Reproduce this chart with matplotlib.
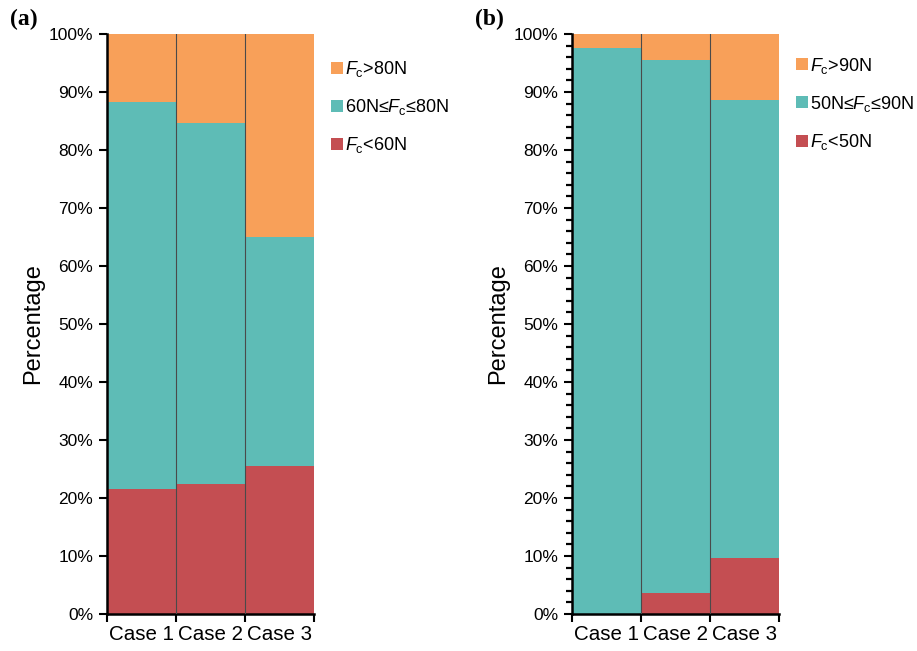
import matplotlib
matplotlib.use("Agg")
import matplotlib.pyplot as plt
from matplotlib.lines import Line2D
from matplotlib.ticker import MultipleLocator, FuncFormatter

plt.rcParams["font.family"] = ["Liberation Sans", "DejaVu Sans"]
plt.rcParams["mathtext.fontset"] = "custom"
plt.rcParams["mathtext.rm"] = "Liberation Sans"
plt.rcParams["mathtext.it"] = "Liberation Sans:italic"

cases = ["Case 1", "Case 2", "Case 3"]

# (a) contact force share per case, %
a_low = [21.5, 22.5, 25.6]
a_mid = [66.7, 62.2, 39.4]
a_high = [11.8, 15.3, 35.0]
a_labels = [r"$\it{F}_\mathrm{c}$>80N", r"60N≤$\it{F}_\mathrm{c}$≤80N", r"$\it{F}_\mathrm{c}$<60N"]

# (b)
b_low = [0.0, 3.7, 9.7]
b_mid = [97.6, 91.9, 79.0]
b_high = [2.4, 4.4, 11.3]
b_labels = [r"$\it{F}_\mathrm{c}$>90N", r"50N≤$\it{F}_\mathrm{c}$≤90N", r"$\it{F}_\mathrm{c}$<50N"]

c_low = "#C44E52"
c_mid = "#5EBCB6"
c_high = "#F8A059"

fig = plt.figure(figsize=(9.17, 6.51), dpi=100)
ax_a = fig.add_axes([107 / 917, 37 / 651, 207 / 917, 580 / 651])
ax_b = fig.add_axes([572 / 917, 37 / 651, 207 / 917, 580 / 651])


def draw_panel(ax, low, mid, high, labels, minor, tag, leg_y):
    x = [i + 0.5 for i in range(len(cases))]
    ax.bar(x, low, width=1.0, color=c_low, linewidth=0)
    ax.bar(x, mid, width=1.0, bottom=low, color=c_mid, linewidth=0)
    bot = [l + m for l, m in zip(low, mid)]
    ax.bar(x, high, width=1.0, bottom=bot, color=c_high, linewidth=0)
    # thin separators between neighbouring bars
    for i in range(1, len(cases)):
        ax.axvline(i, color="#4a4a4a", linewidth=0.8, zorder=3)

    ax.set_xlim(0, len(cases))
    ax.set_ylim(0, 100)
    ax.set_xticks(range(len(cases) + 1))
    ax.set_xticklabels([])
    ax.set_xticks(x, minor=True)
    ax.set_xticklabels(cases, minor=True, fontsize=14.8)
    ax.tick_params(axis="x", which="minor", length=0, pad=8)
    ax.tick_params(axis="x", which="major", length=6, width=1.5)
    ax.yaxis.set_major_locator(MultipleLocator(10))
    ax.yaxis.set_major_formatter(FuncFormatter(lambda v, p: f"{v:.0f}%"))
    ax.tick_params(axis="y", which="major", length=6, width=1.5, labelsize=12.5, pad=4)
    if minor:
        ax.yaxis.set_minor_locator(MultipleLocator(2))
        ax.tick_params(axis="y", which="minor", length=4, width=1.6)
    for s in ["top", "right"]:
        ax.spines[s].set_visible(False)
    for s in ["left", "bottom"]:
        ax.spines[s].set_linewidth(1.8)
    ax.set_ylabel("Percentage", fontsize=17, labelpad=3)

    handles = [Line2D([], [], linestyle="none", marker="s", markersize=8,
                      color=c, markeredgewidth=0) for c in (c_high, c_mid, c_low)]
    ax.legend(handles, labels, loc="upper left", bbox_to_anchor=(1.05, leg_y),
              frameon=False, fontsize=13, handlelength=0.6, handletextpad=0.12,
              labelspacing=1.0, borderaxespad=0)
    ax.text(-0.47, 1.025, tag, transform=ax.transAxes, fontsize=17, fontweight="bold",
            family="Liberation Serif", va="center", ha="left")


draw_panel(ax_a, a_low, a_mid, a_high, a_labels, False, "(a)", 0.969)
draw_panel(ax_b, b_low, b_mid, b_high, b_labels, True, "(b)", 0.975)

fig.savefig("out.png", dpi=100)
